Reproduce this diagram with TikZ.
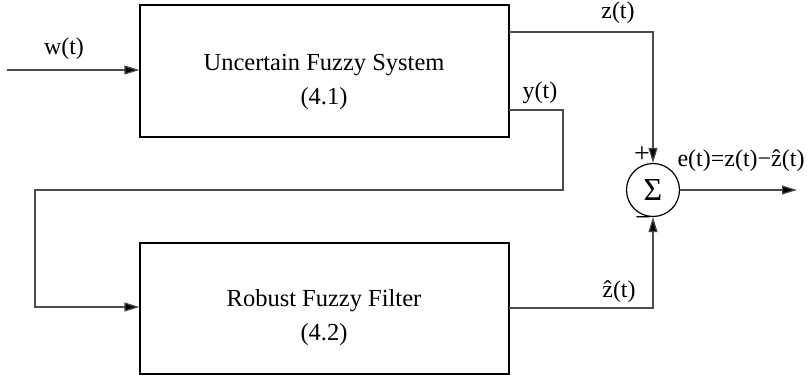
\documentclass[tikz,border=0pt]{standalone}
\usepackage{fontspec}
\setmainfont{Liberation Serif}
\usetikzlibrary{arrows.meta,calc}
\begin{document}
\begin{tikzpicture}[x=1pt,y=-1pt,
  wire/.style={line width=1.2pt,draw=black!70},
  arr/.style={wire,-{Triangle[length=15pt,width=9pt,fill=black]}},
  blk/.style={draw=black,line width=1.2pt,minimum width=369pt,inner sep=0pt},
  txt/.style={font=\fontsize{24.5}{28}\selectfont,inner sep=0pt},
  lbl/.style={font=\fontsize{24}{27}\selectfont,inner sep=0pt}]
\useasboundingbox (0,0) rectangle (807,375);
\node[blk,minimum height=132pt] (top) at (324.5,71) {};
\node[blk,minimum height=131pt] (bot) at (324.5,308.5) {};
\node[txt,anchor=base] (t1) at (324,70) {Uncertain Fuzzy System};
\node[txt,anchor=base] (t2) at (324,104) {(4.1)};
\node[txt,anchor=base] (b1) at (324,306) {Robust Fuzzy Filter};
\node[txt,anchor=base] (b2) at (324,340) {(4.2)};
\node[circle,draw=black,line width=1.2pt,minimum size=53pt,inner sep=0pt,
      font=\fontsize{32}{34}\selectfont] (sum) at (653,190) {Σ};
% input
\coordinate (win) at (7,70);
\draw[arr] (win) -- (win -| top.west);
\node[lbl] (wl) at (64,49) {w(t)};
% z(t)
\coordinate (zs) at (509,32);
\draw[arr] (zs) -| (sum.north);
\node[lbl] (zl) at (618,13) {z(t)};
% y(t)
\coordinate (ys) at (509,110);
\coordinate (y1) at (563,190);
\coordinate (y2) at (35,307);
\draw[arr] (ys) -| (y1) -| (y2) -- (y2 -| bot.west);
\node[lbl] (yl) at (540,93) {y(t)};
% zhat
\coordinate (hs) at (509,308);
\draw[arr] (hs) -| (sum.south);
\node[lbl,anchor=base] (hl) at (619,297) {ẑ(t)};
% output
\coordinate (out) at (797,190);
\draw[arr] (sum.east) -- (out);
\node[lbl,anchor=base] (el) at (741,166) {e(t)=z(t)−ẑ(t)};
\node[font=\fontsize{28}{30}\selectfont,inner sep=0pt] (plus) at (642,155) {+};
\node[font=\fontsize{28}{30}\selectfont,inner sep=0pt] (minus) at (643,222) {−};
\end{tikzpicture}
\end{document}
